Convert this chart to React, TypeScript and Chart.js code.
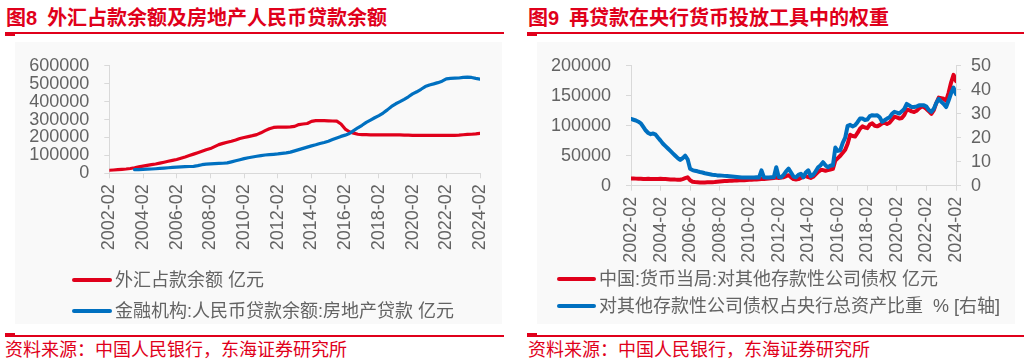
import React, { useEffect, useRef } from 'react';
import { Chart, registerables } from 'chart.js';

Chart.register(...registerables);

const RED = '#e0001b';
const BLUE = '#0070c0';
const GREY_TEXT = '#636363';
const AXIS = '#d9d9d9';
const FONT = '"Liberation Sans", "Noto Sans CJK SC", sans-serif';

// x axis: months since 2002-02, tick every 24 months
const tickLabels = [
  '2002-02', '2004-02', '2006-02', '2008-02', '2010-02', '2012-02',
  '2014-02', '2016-02', '2018-02', '2020-02', '2022-02', '2024-02',
];
const MONTHS_PER_TICK = 24;
const LAST_MONTH = 264;

// 图8 外汇占款余额 (亿元), every 3 months from 2002-02
const fxStartMonth = 0;
const fxStepMonths = 3;
const fxValues = [
  17000, 18500, 20000, 22000, 24000, 27000, 31000, 36000, 40000, 44000,
  48000, 52000, 57000, 62000, 67000, 72000, 77000, 84000, 91000, 99000,
  107000, 115000, 123000, 131000, 138000, 149000, 160000, 167000, 173000, 179000,
  186000, 194000, 200000, 205000, 210000, 216000, 226000, 238000, 249000, 256000,
  258000, 258000, 258000, 259000, 262000, 272000, 275000, 278000, 290000, 294000,
  294000, 294000, 293000, 292000, 291000, 275000, 247000, 232000, 224000, 218000,
  216000, 216000, 215000, 215000, 215000, 215000, 214000, 214000, 214000, 214000,
  213000, 213000, 212000, 212000, 212000, 212000, 212000, 212000, 212000, 212000,
  212000, 212000, 212000, 213000, 215000, 217000, 218000, 220000, 223000,
];

// 图8 金融机构:人民币贷款余额:房地产贷款 (亿元), every 3 months from 2003-08
const mortgageStartMonth = 18;
const mortgageStepMonths = 3;
const mortgageValues = [
  20000, 21000, 22000, 23000, 24000, 25500, 27000, 29000, 31000, 33000,
  34500, 36000, 37000, 38000, 39000, 43000, 48000, 51000, 53000, 54000,
  55000, 56000, 58000, 64000, 70000, 76000, 82000, 87000, 91000, 95000,
  99000, 102000, 104000, 106000, 108000, 111000, 114000, 118000, 125000, 132000,
  139000, 146000, 153000, 159000, 166000, 172000, 179000, 188000, 197000, 206000,
  213000, 222000, 238000, 254000, 268000, 284000, 297000, 310000, 322000, 336000,
  354000, 373000, 388000, 400000, 413000, 427000, 443000, 455000, 469000, 484000,
  493000, 499000, 506000, 514000, 527000, 530000, 531000, 532000, 535000, 537000,
  535000, 530000, 526000,
];

// 图9, every 2 months from 2002-02
const relendStartMonth = 0;
const relendStepMonths = 2;
// 中国:货币当局:对其他存款性公司债权 (亿元)
const claimsValues = [
  12000, 12000, 11800, 11500, 11500, 11000, 11200, 11500, 11200, 11000,
  11000, 11000, 11500, 11200, 11000, 10800, 10500, 10500, 10200, 10000,
  10000, 11000, 12500, 14000, 9000, 6500, 6000, 5800, 5500, 5500,
  5500, 5600, 5700, 5800, 6000, 6500, 7000, 7500, 8000, 8000,
  8200, 8400, 8500, 8700, 9000, 9000, 9200, 9500, 9800, 10000,
  10200, 10400, 10600, 11000, 11000, 11500, 12000, 12500, 13000, 13500,
  13000, 13500, 14000, 16000, 17500, 14000, 11000, 10500, 11000, 13000,
  15000, 16000, 14500, 13000, 15000, 19000, 23000, 26000, 26000, 25000,
  26000, 27000, 28000, 42000, 46000, 50000, 55000, 60000, 70000, 85000,
  83000, 82000, 88000, 95000, 99000, 97000, 96000, 102000, 104000, 100000,
  99000, 101000, 104000, 105000, 103000, 105000, 110000, 115000, 114000, 112000,
  113000, 118000, 127000, 126000, 124000, 123000, 125000, 129000, 132000, 131000,
  128000, 124000, 120000, 126000, 138000, 147000, 146000, 145000, 142000, 155000,
  172000, 185000, 174500,
];
// 对其他存款性公司债权占央行总资产比重 (%)
const shareValues = [
  27.8, 27.5, 27.2, 26.7, 26.0, 24.5, 23.0, 22.0, 21.5, 21.8,
  21.3, 20.0, 18.8, 17.5, 16.5, 15.5, 14.5, 13.5, 12.5, 11.5,
  10.7, 11.5, 12.5, 11.0, 7.1, 6.5, 6.2, 6.0, 5.7, 5.5,
  5.2, 5.0, 4.8, 4.6, 4.5, 4.3, 4.3, 4.2, 4.1, 4.0,
  3.9, 3.8, 3.7, 3.6, 3.5, 3.4, 3.4, 3.4, 3.4, 3.4,
  3.4, 3.5, 3.4, 6.4, 3.5, 3.4, 3.4, 3.5, 3.5, 7.7,
  3.6, 3.5, 4.5, 6.0, 7.1, 5.5, 3.8, 3.5, 4.5, 5.0,
  3.5, 5.5, 6.4, 4.0, 4.5, 6.0, 7.7, 8.5, 9.8, 8.5,
  7.7, 8.4, 8.4, 15.9, 14.5, 14.8, 17.9, 20.0, 25.0, 25.4,
  24.7, 25.2, 26.5, 28.0, 28.0, 27.4, 27.6, 29.0, 29.4, 29.3,
  29.4, 28.5, 26.7, 27.3, 28.0, 28.5, 30.0, 30.8, 30.5, 30.1,
  31.0, 32.0, 34.1, 33.5, 32.8, 32.8, 33.0, 33.5, 33.5, 33.5,
  33.0, 31.5, 30.8, 32.1, 34.5, 36.2, 35.0, 34.1, 32.8, 35.5,
  38.5, 40.9, 38.2,
];

const toPoints = (start: number, step: number, values: number[]) =>
  values.map((y, i) => ({ x: start + i * step, y }));

const tickFont = { family: FONT, size: 18 };

function xAxis(height: number) {
  return {
    type: 'linear',
    min: 0,
    max: LAST_MONTH,
    afterFit: (s: any) => { s.height = height; },
    border: { display: true, color: AXIS, width: 1 },
    grid: { drawOnChartArea: false, drawTicks: true, tickLength: 5, color: AXIS },
    ticks: {
      stepSize: MONTHS_PER_TICK,
      autoSkip: false,
      maxRotation: 90,
      minRotation: 90,
      padding: 6,
      color: GREY_TEXT,
      font: tickFont,
      callback: (v: number) => tickLabels[Math.round(v / MONTHS_PER_TICK)] ?? '',
    },
  };
}

function yAxis(position: string, max: number, step: number, width: number, pad: number) {
  return {
    type: 'linear',
    position,
    min: 0,
    max,
    afterFit: (s: any) => { s.width = width; },
    border: { display: true, color: AXIS, width: 1 },
    grid: { drawOnChartArea: false, drawTicks: true, tickLength: 5, color: AXIS },
    ticks: {
      stepSize: step,
      autoSkip: false,
      padding: pad,
      color: GREY_TEXT,
      font: tickFont,
      callback: (v: number) => String(v),
    },
  };
}

function lineSet(data: any[], color: string, width: number, order: number, yAxisID = 'y') {
  return {
    data,
    borderColor: color,
    backgroundColor: color,
    borderWidth: width,
    pointRadius: 0,
    tension: 0,
    borderJoinStyle: 'round',
    borderCapStyle: 'round',
    order,
    yAxisID,
  };
}

function fig8Config(): any {
  return {
    type: 'line',
    data: {
      datasets: [
        lineSet(toPoints(fxStartMonth, fxStepMonths, fxValues), RED, 3.2, 1),
        lineSet(toPoints(mortgageStartMonth, mortgageStepMonths, mortgageValues), BLUE, 3.2, 0),
      ],
    },
    options: {
      responsive: false,
      animation: false,
      layout: { padding: { top: 17.3, right: 32, left: 0, bottom: 0 } },
      plugins: { legend: { display: false }, tooltip: { enabled: false } },
      scales: {
        x: xAxis(91.7),
        y: yAxis('left', 600000, 100000, 109.3, 15),
      },
    },
  };
}

function fig9Config(): any {
  return {
    type: 'line',
    data: {
      datasets: [
        lineSet(toPoints(relendStartMonth, relendStepMonths, claimsValues), RED, 4, 1, 'y'),
        lineSet(toPoints(relendStartMonth, relendStepMonths, shareValues), BLUE, 4, 0, 'y1'),
      ],
    },
    options: {
      responsive: false,
      animation: false,
      layout: { padding: { top: 22.7, right: 0, left: 0, bottom: 0 } },
      plugins: { legend: { display: false }, tooltip: { enabled: false } },
      scales: {
        x: xAxis(89.3),
        y: yAxis('left', 200000, 50000, 119, 15),
        y1: yAxis('right', 50, 10, 68, 10),
      },
    },
  };
}

function ChartCanvas(props: { left: number; top: number; width: number; height: number; build: () => any }) {
  const ref = useRef<HTMLCanvasElement>(null);
  useEffect(() => {
    const chart = new Chart(ref.current as HTMLCanvasElement, props.build());
    return () => chart.destroy();
  }, []);
  return (
    <canvas
      ref={ref}
      width={props.width}
      height={props.height}
      style={{ position: 'absolute', left: props.left, top: props.top, width: props.width, height: props.height }}
    />
  );
}

const abs = (left: number, top: number, extra: any = {}) => ({ position: 'absolute' as const, left, top, ...extra });

function Title(props: { left: number; num: string; text: string }) {
  return (
    <div style={abs(props.left, 6, { fontFamily: FONT, fontWeight: 700, fontSize: 20, lineHeight: '24px', color: RED, whiteSpace: 'pre' })}>
      {'图' + props.num}
      <span style={{ marginLeft: 10 }}>{props.text}</span>
    </div>
  );
}

function Rule(props: { left: number; width: number; top: number; stubTop: number }) {
  return (
    <>
      <div style={abs(props.left, props.top, { width: props.width, height: 2, background: RED })} />
      <div style={abs(props.left, props.stubTop, { width: 10, height: 2, background: RED })} />
    </>
  );
}

function LegendItem(props: { left: number; center: number; sample: number; color: string; text: string }) {
  return (
    <>
      <div style={abs(props.left, props.center - 2, { width: props.sample, height: 4, borderRadius: 2, background: props.color })} />
      <div style={abs(props.left + props.sample + 3, props.center - 11, { fontFamily: FONT, fontSize: 18, lineHeight: '22px', color: GREY_TEXT, whiteSpace: 'pre' })}>
        {props.text}
      </div>
    </>
  );
}

function Source(props: { left: number }) {
  return (
    <div style={abs(props.left, 339, { fontFamily: FONT, fontSize: 18, lineHeight: '22px', color: RED, whiteSpace: 'pre' })}>
      资料来源：中国人民银行，东海证券研究所
    </div>
  );
}

export default function App() {
  return (
    <div style={{ position: 'absolute', left: 0, top: 0, width: 1024, height: 361, background: '#fff', overflow: 'hidden' }}>
      {/* panel backgrounds */}
      <div style={abs(15, 42, { width: 487, height: 282, background: '#f9f9f9' })} />
      <div style={abs(537, 42, { width: 478, height: 282, background: '#f9f9f9' })} />

      <Title left={6} num="8" text="外汇占款余额及房地产人民币贷款余额" />
      <Title left={528} num="9" text="再贷款在央行货币投放工具中的权重" />
      <Rule left={5} width={499} top={32} stubTop={34} />
      <Rule left={527} width={497} top={32} stubTop={34} />

      <ChartCanvas left={0} top={40} width={512} height={225} build={fig8Config} />
      <ChartCanvas left={512} top={40} width={512} height={235} build={fig9Config} />

      <LegendItem left={72} center={279.5} sample={40} color={RED} text="外汇占款余额 亿元" />
      <LegendItem left={72} center={311} sample={40} color={BLUE} text="金融机构:人民币贷款余额:房地产贷款 亿元" />
      <LegendItem left={557} center={279} sample={39} color={RED} text="中国:货币当局:对其他存款性公司债权 亿元" />
      <LegendItem left={557} center={306} sample={39} color={BLUE} text="对其他存款性公司债权占央行总资产比重  % [右轴]" />

      <Rule left={5} width={499} top={335} stubTop={333} />
      <Rule left={527} width={497} top={335} stubTop={333} />
      <Source left={5} />
      <Source left={528} />
    </div>
  );
}
